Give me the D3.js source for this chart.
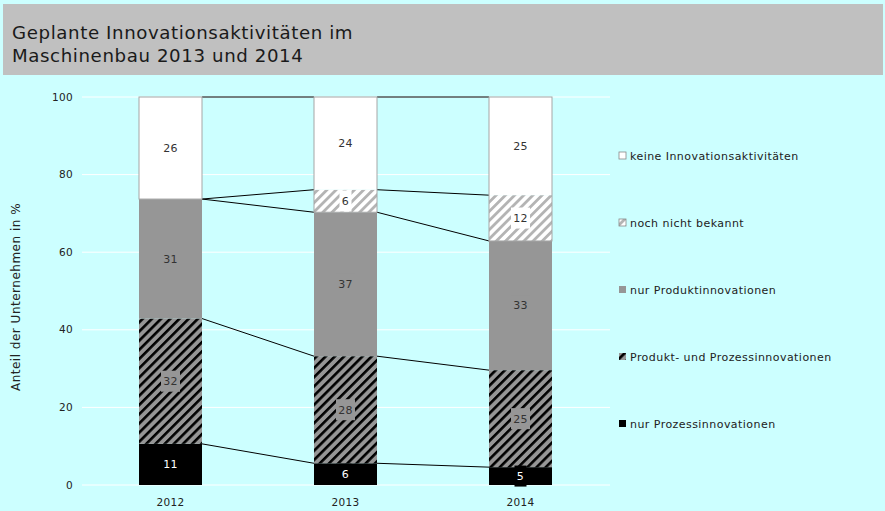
<!DOCTYPE html>
<html>
<head>
<meta charset="utf-8">
<script src="https://cdn.jsdelivr.net/npm/d3@7"></script>
<style>
  body { margin: 0; background: #ccffff; }
  text { font-family: 'DejaVu Sans', Verdana, sans-serif; }
</style>
</head>
<body>
<div id="chart"></div>
<script>
// Years on the x axis
const years = ['2012', '2013', '2014'];

// Series, bottom to top of the stack (shares in %)
const seriesNames = [
  'nur Prozessinnovationen',
  'Produkt- und Prozessinnovationen',
  'nur Produktinnovationen',
  'noch nicht bekannt',
  'keine Innovationsaktivitäten'
];
const nurProzess = [10.6, 5.6, 4.6];
const produktUndProzess = [32.3, 27.6, 25.0];
const nurProdukt = [30.8, 37.1, 33.3];
const nochNichtBekannt = [0, 5.8, 11.8];
const keine = [26.3, 23.9, 25.3];

const yTicks = [0, 20, 40, 60, 80, 100];

const titleLines = ['Geplante Innovationsaktivitäten im', 'Maschinenbau 2013 und 2014'];
const yTitle = 'Anteil der Unternehmen in %';

const width = 885, height = 511;

const svg = d3.select('#chart').append('svg')
    .attr('width', width)
    .attr('height', height);

// Background + title box
svg.append('rect').attr('width', width).attr('height', height).attr('fill', '#ccffff');
svg.append('rect')
    .attr('x', 3).attr('y', 4)
    .attr('width', 880).attr('height', 71)
    .attr('fill', '#c0c0c0');

svg.selectAll('.title')
    .data(titleLines)
  .join('text')
    .attr('class', 'title')
    .attr('x', 12)
    .attr('y', (d, i) => 39 + i * 23)
    .attr('font-size', 18.2)
    .attr('letter-spacing', 0.6)
    .attr('fill', '#1a1a1a')
    .text(d => d);

// Patterns
const defs = svg.append('defs');

function stripes(id, bg, fg, size, w) {
  const p = defs.append('pattern')
      .attr('id', id)
      .attr('patternUnits', 'userSpaceOnUse')
      .attr('width', size).attr('height', size)
      .attr('patternTransform', 'rotate(45)');
  p.append('rect').attr('width', size).attr('height', size).attr('fill', bg);
  p.append('rect').attr('x', 0).attr('width', w).attr('height', size).attr('fill', fg);
}
stripes('hatchDark', '#969696', '#000', 6.5, 2.6);
stripes('hatchLight', '#ffffff', '#b4b4b4', 6.5, 2.8);

const fills = ['#000000', 'url(#hatchDark)', '#969696', 'url(#hatchLight)', '#ffffff'];
const labelBg = ['#000000', '#969696', '#969696', '#ffffff', '#ffffff'];
const labelColor = ['#ffffff', '#333333', '#333333', '#333333', '#333333'];

// Scales
const x = d3.scaleBand()
    .domain(years)
    .range([83, 608])
    .paddingInner(0.64)
    .paddingOuter(0.32);

const y = d3.scaleLinear()
    .domain([0, 100])
    .range([485, 97]);

// Gridlines
svg.append('g')
  .selectAll('line')
    .data(yTicks)
  .join('line')
    .attr('x1', 82).attr('x2', 610)
    .attr('y1', d => y(d)).attr('y2', d => y(d))
    .attr('stroke', '#ffffff')
    .attr('stroke-width', 1);

// Y tick labels
svg.append('g')
  .selectAll('text')
    .data(yTicks)
  .join('text')
    .attr('x', 73)
    .attr('y', d => y(d))
    .attr('dy', '0.35em')
    .attr('text-anchor', 'end')
    .attr('font-size', 10.5)
    .attr('letter-spacing', 0.3)
    .attr('fill', '#222')
    .text(d => d);

// Y axis title
svg.append('text')
    .attr('transform', `translate(20,${(y(0) + y(100)) / 2 + 6}) rotate(-90)`)
    .attr('text-anchor', 'middle')
    .attr('font-size', 12)
    .attr('letter-spacing', 0.5)
    .attr('fill', '#222')
    .text(yTitle);

// X labels
svg.append('g')
  .selectAll('text')
    .data(years)
  .join('text')
    .attr('x', d => x(d) + x.bandwidth() / 2)
    .attr('y', 506)
    .attr('text-anchor', 'middle')
    .attr('font-size', 10.5)
    .attr('letter-spacing', 0.3)
    .attr('fill', '#222')
    .text(d => d);

// Stack
const table = years.map((yr, i) => ({
  year: yr,
  s0: nurProzess[i],
  s1: produktUndProzess[i],
  s2: nurProdukt[i],
  s3: nochNichtBekannt[i],
  s4: keine[i]
}));
const keys = ['s0', 's1', 's2', 's3', 's4'];
const stacked = d3.stack().keys(keys)(table);

// Series lines between bars
const lineGroup = svg.append('g');
stacked.forEach(layer => {
  for (let i = 0; i < years.length - 1; i++) {
    lineGroup.append('line')
        .attr('x1', x(years[i]) + x.bandwidth())
        .attr('x2', x(years[i + 1]))
        .attr('y1', y(layer[i][1]))
        .attr('y2', y(layer[i + 1][1]))
        .attr('stroke', '#000')
        .attr('stroke-width', 1);
  }
});

// Bars
const layers = svg.append('g')
  .selectAll('g')
    .data(stacked)
  .join('g')
    .attr('fill', (d, i) => fills[i]);

layers.selectAll('rect')
    .data(d => d.filter(p => p[1] - p[0] > 0))
  .join('rect')
    .attr('x', d => x(d.data.year))
    .attr('y', d => y(d[1]))
    .attr('width', x.bandwidth())
    .attr('height', d => y(d[0]) - y(d[1]));

// Light outline for the white / light segments
svg.append('g')
  .selectAll('rect')
    .data(stacked[4])
  .join('rect')
    .attr('x', d => x(d.data.year))
    .attr('y', d => y(d[1]))
    .attr('width', x.bandwidth())
    .attr('height', d => y(stacked[2][years.indexOf(d.data.year)][1]) - y(d[1]))
    .attr('fill', 'none')
    .attr('stroke', '#a6a6a6')
    .attr('stroke-width', 1);

// Value labels
const labelGroup = svg.append('g');
stacked.forEach((layer, li) => {
  layer.forEach(p => {
    if (p[1] - p[0] <= 0) return;
    const cx = x(p.data.year) + x.bandwidth() / 2;
    const cy = y((p[0] + p[1]) / 2);
    const txt = d3.format('.0f')(p[1] - p[0]);
    const bw = txt.length * 7 + 5;
    labelGroup.append('rect')
        .attr('x', cx - bw / 2)
        .attr('y', cy - 10.5)
        .attr('width', bw)
        .attr('height', 21)
        .attr('fill', labelBg[li]);
    labelGroup.append('text')
        .attr('x', cx)
        .attr('y', cy)
        .attr('dy', '0.35em')
        .attr('text-anchor', 'middle')
        .attr('font-size', 11)
        .attr('letter-spacing', 0.3)
        .attr('fill', labelColor[li])
        .text(txt);
  });
});

// Legend (top to bottom = reverse of stack)
const legendY = [156, 223, 290, 357, 424];
const legendItems = seriesNames.map((name, i) => ({ name, i })).reverse();
const legend = svg.append('g')
  .selectAll('g')
    .data(legendItems)
  .join('g')
    .attr('transform', (d, k) => `translate(619,${legendY[k]})`);

legend.append('rect')
    .attr('x', 0).attr('y', -4)
    .attr('width', 7).attr('height', 7)
    .attr('fill', d => fills[d.i])
    .attr('stroke', d => d.i >= 3 ? '#888' : 'none')
    .attr('stroke-width', 0.8);

legend.append('text')
    .attr('x', 11)
    .attr('dy', '0.35em')
    .attr('font-size', 11)
    .attr('letter-spacing', 0.45)
    .attr('fill', '#222')
    .text(d => d.name);
</script>
</body>
</html>
